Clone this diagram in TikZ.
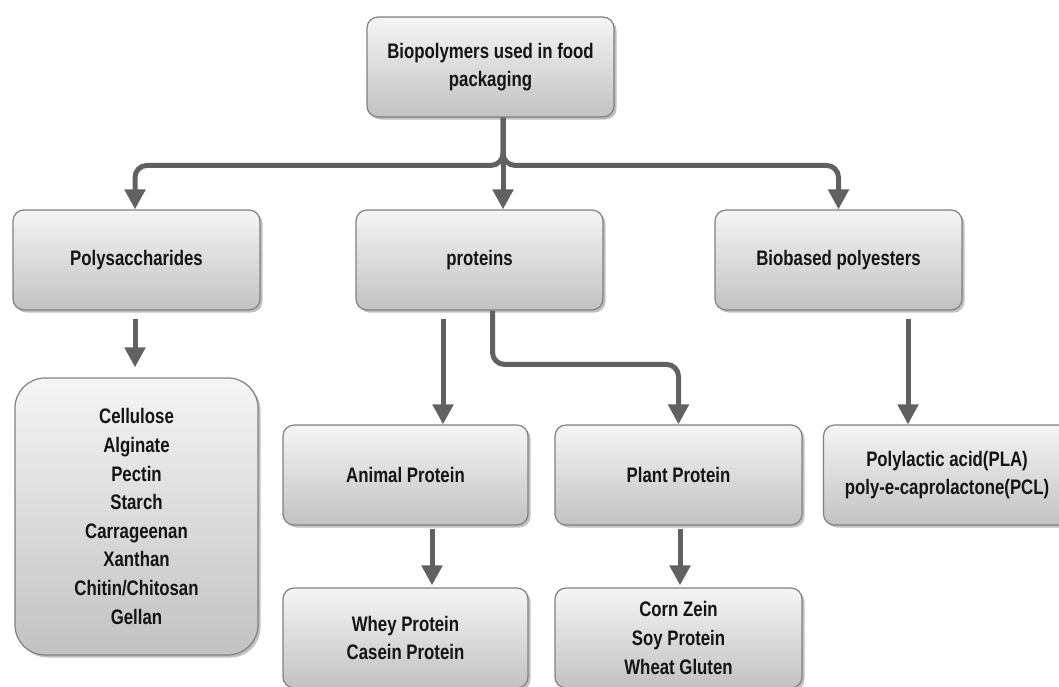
\documentclass[tikz,border=0pt]{standalone}
\usepackage{fontspec}
\newfontfamily\lbl[FakeStretch=0.8]{Liberation Sans Bold}
\usetikzlibrary{arrows.meta,shadows,calc}
\begin{document}
\begin{tikzpicture}[x=1pt,y=-1pt,
  box/.style={rounded corners=11pt, draw=black!50, line width=1.2pt,
    top color=black!4, bottom color=black!24,
    minimum width=247pt, minimum height=100pt, align=center,
    font=\lbl\fontsize{21}{28.6}\selectfont, text=black!92,
    drop shadow={shadow xshift=2.5pt, shadow yshift=-2.5pt, opacity=0.35, fill=black!70}},
  arr/.style={draw=black!62, line width=5pt, -{Triangle[width=20pt,length=20pt]}}]
\useasboundingbox (0,0) rectangle (1059,686);
\fill[white] (0,0) rectangle (1059,686);

\node[box] (top) at (490.5,67) {Biopolymers used in food\\packaging};
\node[box] (poly) at (136.5,260) {Polysaccharides};
\node[box] (prot) at (479.5,260) {proteins};
\node[box] (bio) at (838.5,260) {Biobased polyesters};
\node[box, rounded corners=30pt, minimum width=243pt, minimum height=277pt] (cell) at (136.5,516.5)
  {Cellulose\\Alginate\\Pectin\\Starch\\Carrageenan\\Xanthan\\Chitin/Chitosan\\Gellan};
\node[box, minimum width=245pt] (animal) at (405.5,475) {Animal Protein};
\node[box] (plant) at (678.5,475) {Plant Protein};
\node[box] (pla) at (947,475) {Polylactic acid(PLA)\\poly-e-caprolactone(PCL)};
\node[box, minimum width=245pt] (whey) at (405.5,638) {Whey Protein\\Casein Protein};
\node[box] (corn) at (678.5,638) {Corn Zein\\Soy Protein\\Wheat Gluten};

% top distribution
\coordinate (s) at ($(top.south)+(12.5,0)$);
\draw[arr, rounded corners=12pt] (s) |- ($(poly.north)+(-1.5,-44)$) -- ($(poly.north)+(-1.5,0)$);
\draw[arr] (s) -- (s |- prot.north);
\draw[arr, rounded corners=12pt] (s) |- ($(bio.north)+(0,-44)$) -- (bio.north);

% polysaccharides
\coordinate (pc) at ($(poly.south)+(-1.5,8)$);
\draw[arr, shorten >=10pt] (pc) -- (pc |- cell.north);

% proteins
\coordinate (pa) at ($(prot.south)+(-36.5,8)$);
\draw[arr] (pa) -- (pa |- animal.north);
\coordinate (pp) at ($(prot.south)+(13,0)$);
\draw[arr, rounded corners=12pt] (pp) |- ($(plant.north)+(0,-60)$) -- (plant.north);

% animal / plant
\coordinate (aw) at ($(animal.south)+(26.5,3)$);
\draw[arr, shorten >=2pt] (aw) -- (aw |- whey.north);
\coordinate (cz) at ($(plant.south)+(1.5,3)$);
\draw[arr, shorten >=2pt] (cz) -- (cz |- corn.north);

% biobased
\coordinate (bp) at ($(bio.south)+(69.5,8)$);
\draw[arr] (bp) -- (bp |- pla.north);
\end{tikzpicture}
\end{document}
